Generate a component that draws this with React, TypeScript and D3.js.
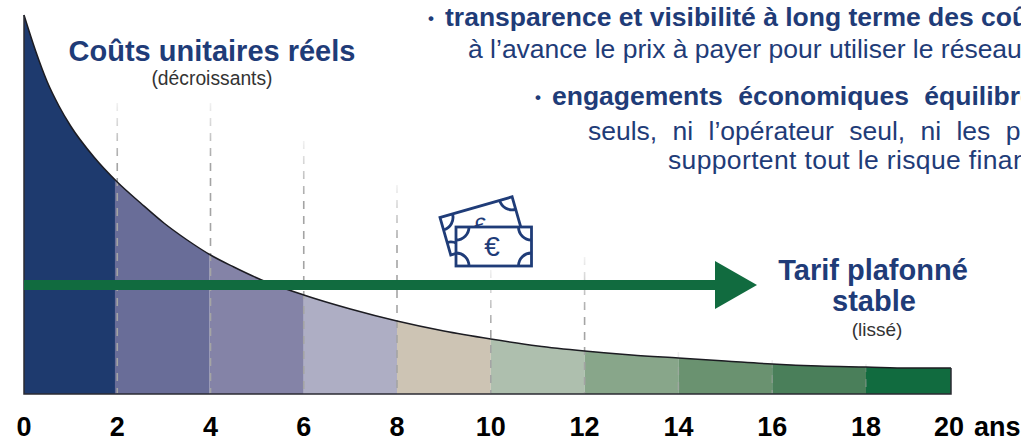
import React from "react";
import * as d3 from "d3";

const W = 1021, H = 442;
const years = [0, 0.25, 0.5, 0.75, 1, 1.5, 2, 2.5, 3, 3.5, 4, 4.5, 5, 6, 7, 8, 9, 10, 11, 12, 13, 14, 15, 16, 17, 18, 19, 20];
const unitCost = [379, 343, 312, 288, 268, 237, 212, 191, 171, 154, 139, 127, 116, 99, 85, 73, 63, 55, 48, 43, 39, 36, 33, 30, 28, 27, 26, 26];
const segmentEdges = [0, 1.95, 3.98, 6, 8, 10, 12, 14, 16, 18, 20];
const segmentColors = ["#1E3A6E", "#696D98", "#8483A7", "#AEAEC4", "#CDC4B4", "#AEBFAE", "#88A68A", "#6A9270", "#4A7F5A", "#116B3F"];
const tickYears = [0, 2, 4, 6, 8, 10, 12, 14, 16, 18, 20];
const gridYears = [2, 4, 6, 8, 10, 12, 14, 16, 18];
const gridTops = [103, 103, 141, 185, 270, 257, 352, 360, 364];
const plateau = 109;

const NAVY = "#1F3C78";
const GREEN = "#116B3F";
const FONT = "'Liberation Sans', Arial, sans-serif";

const x = d3.scaleLinear().domain([0, 8, 18, 20]).range([24, 397, 866, 951]);
const y = d3.scaleLinear().domain([0, 379]).range([394, 15]);
const area = d3.area<number>().x((_, i) => x(years[i])).y0(y(0)).y1((d) => y(d)).curve(d3.curveMonotoneX);
const line = d3.line<number>().x((_, i) => x(years[i])).y((d) => y(d)).curve(d3.curveMonotoneX);

function Notes() {
  const stroke = { fill: "#fff", stroke: NAVY, strokeWidth: 2.8 };
  const corner = { fill: "none", stroke: NAVY, strokeWidth: 2.8 };
  return (
    <g>
      <g transform="translate(440,217.5) rotate(-16)">
        <rect x={0} y={0} width={75} height={39} {...stroke} />
        <path d="M0 13 A13 13 0 0 0 13 0 M62 0 A13 13 0 0 0 75 13 M0 26 A13 13 0 0 1 13 39" {...corner} />
        <text x={37} y={28} textAnchor="middle" fontFamily={FONT} fontSize={24} fill={NAVY}>€</text>
      </g>
      <rect x={456} y={227} width={75.5} height={39} {...stroke} />
      <path d="M456 240 A13 13 0 0 0 469 227 M518.5 227 A13 13 0 0 0 531.5 240 M456 253 A13 13 0 0 1 469 266 M518.5 266 A13 13 0 0 1 531.5 253" {...corner} />
      <text x={492} y={256} textAnchor="middle" fontFamily={FONT} fontSize={28} fill={NAVY}>€</text>
    </g>
  );
}

export default function App() {
  return (
    <svg width={W} height={H} viewBox={`0 0 ${W} ${H}`} style={{ position: "absolute", left: 0, top: 0, background: "#fff" }}>
      <defs>
        {segmentColors.map((_, i) => (
          <clipPath id={`seg${i}`} key={i}>
            <rect x={x(segmentEdges[i])} y={0} width={x(segmentEdges[i + 1]) - x(segmentEdges[i])} height={H} />
          </clipPath>
        ))}
        {gridYears.map((g, i) => (
          <linearGradient id={`fade${i}`} key={g} gradientUnits="userSpaceOnUse" x1={0} x2={0} y1={gridTops[i]} y2={gridTops[i] + 60}>
            <stop offset="0" stopColor="#a4a4a4" stopOpacity={0.15} />
            <stop offset="1" stopColor="#a4a4a4" stopOpacity={1} />
          </linearGradient>
        ))}
      </defs>

      {segmentColors.map((c, i) => (
        <path key={c} d={area(unitCost) as string} fill={c} clipPath={`url(#seg${i})`} />
      ))}

      {gridYears.map((g, i) => (
        <line key={g} x1={x(g)} x2={x(g)} y1={gridTops[i]} y2={393} stroke={`url(#fade${i})`} strokeWidth={1.6} strokeDasharray="8 7" />
      ))}

      <path d={line(unitCost) as string} fill="none" stroke="#1c1c22" strokeWidth={1.5} />
      <path d={`M${x(0)} ${y(unitCost[0])} V${y(0)} H${x(20)} V${y(unitCost[unitCost.length - 1])}`} fill="none" stroke="#2b2b33" strokeWidth={1.5} />

      <rect x={x(0)} y={y(plateau) - 5} width={692} height={10} fill={GREEN} />
      <path d={`M715 ${y(plateau) - 24} L757 ${y(plateau)} L715 ${y(plateau) + 24} Z`} fill={GREEN} />

      <Notes />

      {tickYears.map((t) => (
        <text key={t} x={t === 20 ? x(t) - 2 : x(t)} y={436} textAnchor="middle" fontFamily={FONT} fontSize={27} fontWeight={700} fill="#000">{t}</text>
      ))}
      <text x={974} y={436} fontFamily={FONT} fontSize={27} fontWeight={700} fill="#000">ans</text>

      <text x={212} y={61} textAnchor="middle" fontFamily={FONT} fontSize={29} fontWeight={700} fill={NAVY}>Coûts unitaires réels</text>
      <text x={212} y={85} textAnchor="middle" fontFamily={FONT} fontSize={19.3} fill="#333">(décroissants)</text>

      <text x={873} y={280} textAnchor="middle" fontFamily={FONT} fontSize={29} fontWeight={700} fill={NAVY}>Tarif plafonné</text>
      <text x={874} y={311} textAnchor="middle" fontFamily={FONT} fontSize={29} fontWeight={700} fill={NAVY}>stable</text>
      <text x={877} y={336} textAnchor="middle" fontFamily={FONT} fontSize={19} fill="#333">(lissé)</text>

      <text x={428} y={24} fontFamily={FONT} fontSize={17} fontWeight={700} fill={NAVY}>•</text>
      <text x={445} y={26} fontFamily={FONT} fontSize={26.5} fontWeight={700} fill={NAVY}>transparence et visibilité à long terme des coûts</text>
      <text x={468} y={58} fontFamily={FONT} fontSize={26.5} fill={NAVY}>à l’avance le prix à payer pour utiliser le réseau</text>
      <text x={535} y={103} fontFamily={FONT} fontSize={17} fontWeight={700} fill={NAVY}>•</text>
      <text x={552} y={105} fontFamily={FONT} fontSize={26.5} fontWeight={700} fill={NAVY} wordSpacing={8}>engagements économiques équilibrés</text>
      <text x={588} y={139.5} fontFamily={FONT} fontSize={26.5} fill={NAVY} wordSpacing={8}>seuls, ni l’opérateur seul, ni les pouvoirs</text>
      <text x={668} y={169} fontFamily={FONT} fontSize={26.5} fill={NAVY} letterSpacing={0.35}>supportent tout le risque financier</text>
    </svg>
  );
}
